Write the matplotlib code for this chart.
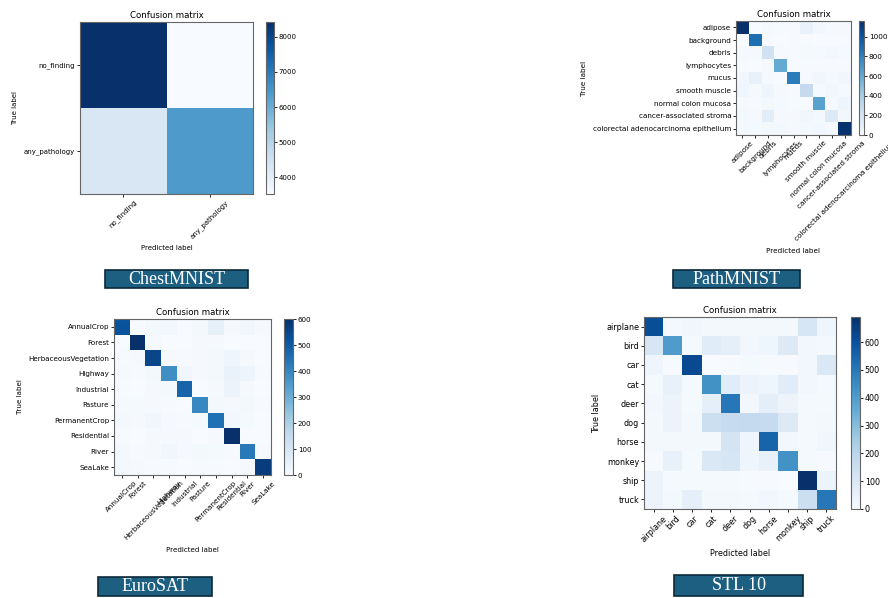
import numpy as np
import matplotlib
matplotlib.use('Agg')
from matplotlib import pyplot as plt
from matplotlib.patches import Rectangle

# ---- data ----
chest_classes = ['no_finding', 'any_pathology']
chest_cm = [[8426, 3517],
            [4250, 6400]]

path_classes = ['adipose', 'background', 'debris', 'lymphocytes', 'mucus',
                'smooth muscle', 'normal colon mucosa', 'cancer-associated stroma',
                'colorectal adenocarcinoma epithelium']
path_cm = [[1160, 0, 15, 5, 5, 80, 30, 10, 10],
           [0, 880, 5, 0, 5, 5, 0, 5, 5],
           [10, 10, 220, 5, 5, 15, 10, 30, 10],
           [5, 0, 10, 600, 5, 5, 5, 5, 5],
           [30, 90, 10, 5, 820, 10, 40, 20, 40],
           [50, 10, 50, 10, 5, 290, 10, 40, 10],
           [10, 5, 25, 15, 5, 5, 640, 10, 50],
           [20, 10, 120, 10, 10, 40, 20, 150, 30],
           [20, 15, 25, 25, 10, 20, 30, 10, 1150]]

euro_classes = ['AnnualCrop', 'Forest', 'HerbaceousVegetation', 'Highway', 'Industrial',
                'Pasture', 'PermanentCrop', 'Residential', 'River', 'SeaLake']
euro_cm = [[520, 2, 10, 15, 3, 10, 50, 5, 20, 5],
           [0, 600, 5, 2, 2, 5, 5, 0, 2, 2],
           [3, 5, 550, 5, 3, 5, 10, 25, 5, 0],
           [5, 3, 10, 380, 20, 5, 10, 40, 30, 3],
           [3, 2, 5, 10, 480, 2, 5, 35, 5, 2],
           [5, 8, 5, 3, 0, 400, 10, 5, 10, 3],
           [10, 5, 20, 5, 3, 8, 450, 15, 8, 0],
           [3, 0, 5, 5, 5, 2, 5, 600, 3, 2],
           [12, 3, 5, 20, 5, 10, 8, 3, 430, 5],
           [10, 5, 3, 3, 0, 3, 3, 2, 5, 570]]

stl_classes = ['airplane', 'bird', 'car', 'cat', 'deer', 'dog', 'horse', 'monkey', 'ship', 'truck']
stl_cm = [[610, 15, 25, 15, 15, 15, 15, 15, 110, 30],
          [110, 400, 10, 80, 60, 20, 30, 90, 20, 15],
          [30, 5, 620, 0, 5, 10, 5, 5, 20, 100],
          [10, 50, 10, 430, 80, 40, 30, 80, 20, 10],
          [20, 40, 10, 60, 500, 20, 70, 40, 10, 10],
          [15, 40, 15, 150, 170, 175, 170, 90, 10, 15],
          [15, 15, 15, 15, 120, 30, 550, 20, 10, 25],
          [5, 50, 10, 100, 110, 30, 50, 430, 10, 5],
          [40, 10, 10, 10, 10, 5, 5, 0, 690, 40],
          [40, 15, 60, 15, 15, 10, 20, 10, 150, 500]]

W, H = 888, 598
fig = plt.figure(figsize=(W / 100, H / 100), dpi=100)


def box(x0, y0, x1, y1):
    return [x0 / W, 1 - y1 / H, (x1 - x0) / W, (y1 - y0) / H]


def draw_cm(cm, classes, ax_px, cb_px, fs=5.5):
    ax = fig.add_axes(box(*ax_px))
    cax = fig.add_axes(box(*cb_px))
    cm = np.array(cm)
    im = ax.imshow(cm, interpolation='nearest', cmap=plt.cm.Blues, aspect='auto')
    ax.set_title('Confusion matrix', fontsize=6.2, pad=3)
    ticks = np.arange(len(classes))
    ax.set_xticks(ticks)
    ax.set_xticklabels(classes, rotation=45, fontsize=fs)
    ax.set_yticks(ticks)
    ax.set_yticklabels(classes, fontsize=fs)
    ax.set_ylabel('True label', fontsize=fs)
    ax.set_xlabel('Predicted label', fontsize=fs)
    ax.tick_params(length=2, width=0.6, pad=1.5)
    for s in ax.spines.values():
        s.set_color('#666666')
    cb = fig.colorbar(im, cax=cax)
    cb.ax.tick_params(labelsize=fs, length=2, width=0.6, pad=1.5)
    cb.outline.set_edgecolor('#666666')
    return ax


def tag(text, x0, y0, x1, y1):
    b = box(x0, y0, x1, y1)
    fig.patches.append(Rectangle((b[0], b[1]), b[2], b[3], transform=fig.transFigure,
                                 facecolor='#1d5f80', edgecolor='#0b2a3a', linewidth=1.2))
    fig.text(b[0] + b[2] / 2, b[1] + b[3] / 2, text, ha='center', va='center',
             color='white', fontsize=13, family='Liberation Serif')


draw_cm(chest_cm, chest_classes, (80, 22, 253, 194), (266, 22, 274, 194), fs=5.0)
draw_cm(path_cm, path_classes, (736, 21, 851, 135), (859, 21, 864, 135), fs=5.2)
draw_cm(euro_cm, euro_classes, (114, 319, 271, 475), (284, 319, 293, 475), fs=5.1)
draw_cm(stl_cm, stl_classes, (644, 317, 836, 509), (851, 317, 860, 509), fs=5.8)

tag('ChestMNIST', 105, 270, 248, 288)
tag('PathMNIST', 673, 270, 800, 288)
tag('EuroSAT', 98, 577, 212, 596)
tag('STL 10', 674, 575, 803, 596)

plt.savefig('out.png', dpi=100)
